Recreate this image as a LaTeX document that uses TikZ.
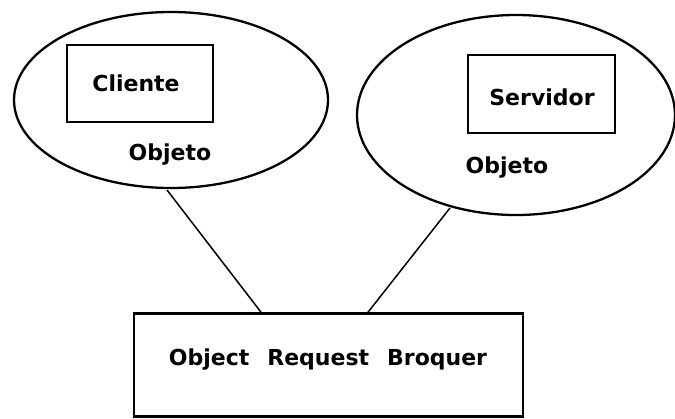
\documentclass[tikz,border=0pt]{standalone}
\usepackage{fontspec}
\setmainfont{DejaVu Sans}
\usetikzlibrary{shapes.geometric}
\begin{document}
\begin{tikzpicture}[x=1pt,y=-1pt,
  shape line/.style={draw=black, line width=2.3pt},
  link/.style={draw=black, line width=1.5pt},
  lbl/.style={font=\bfseries\fontsize{22}{26}\selectfont, inner sep=0pt},
  objell/.style={shape line, ellipse, inner sep=0pt}]
\useasboundingbox (0,0) rectangle (675,418);
\begin{scope}
\clip (0,0) rectangle (675,418);
\node[objell, minimum width=314pt, minimum height=176pt] (e1) at (171,100) {};
\node[objell, minimum width=318pt, minimum height=200pt] (e2) at (516,115) {};
\node[shape line, minimum width=146pt, minimum height=77pt, inner sep=0pt] (cli) at (140,83.5) {};
\node[shape line, minimum width=147pt, minimum height=78pt, inner sep=0pt] (srv) at (541.5,94) {};
\node[shape line, minimum width=389pt, minimum height=103pt, inner sep=0pt] (orb) at (328.5,365) {};
\end{scope}
\node[lbl] (tcli) at (136,83) {Cliente};
\node[lbl] (tsrv) at (542,97) {Servidor};
\node[lbl] (to1) at (170,155) {Objeto};
\node[lbl] (to2) at (507,168) {Objeto};
\node[lbl] (torb) at (328,360) {Object\hspace{18pt}Request\hspace{18pt}Broquer};
\coordinate (a1) at (167,190);
\coordinate (a2) at (450,208);
\coordinate (b1) at (262,313.5);
\coordinate (b2) at (367,313.5);
\draw[link] (a1) -- (b1);
\draw[link] (a2) -- (b2);
\end{tikzpicture}
\end{document}
